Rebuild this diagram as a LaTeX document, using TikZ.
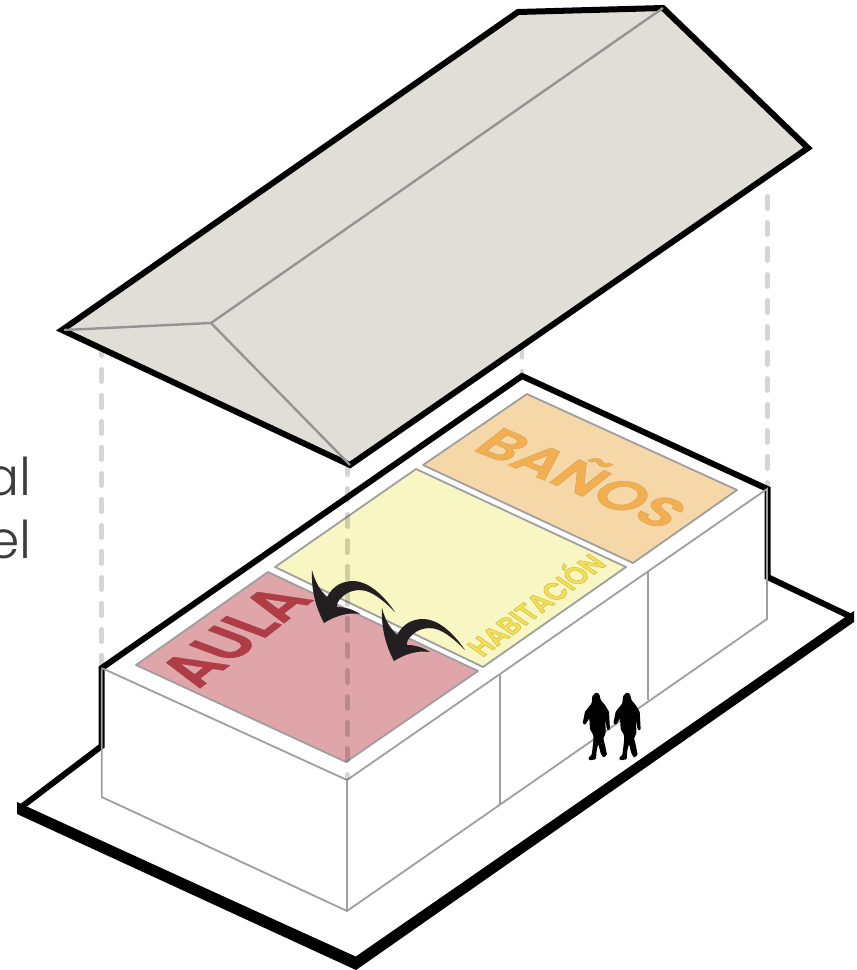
\documentclass[tikz,border=0pt]{standalone}
\usepackage{fontspec}
\setmainfont{Poppins}
\newfontfamily\lightfont{Poppins Light}
\newfontfamily\isofamily{Poppins SemiBold}[FakeBold=0.5]
\newfontfamily\isofamilyB{Poppins SemiBold}[FakeBold=1.6]
\newsavebox\isobox
\newlength\isoh
\newlength\wAula
\newlength\wBanos
\newlength\wHabi
\newcommand\isostyle{\fontsize{10pt}{12pt}\isofamily}
\newcommand\isostyleB{\fontsize{10pt}{12pt}\isofamilyB}
\AtBeginDocument{%
  \sbox\isobox{\isostyle AULA}\global\wAula=\wd\isobox
  \sbox\isobox{\isostyle BAÑOS}\global\wBanos=\wd\isobox
  \sbox\isobox{\isostyleB HABITACIÓN}\global\wHabi=\wd\isobox
  \sbox\isobox{\isostyle H}\global\isoh=\ht\isobox
}
% name, text colour, start x, start y, end x, end y, cap vector x, y, width length
\newcommand\isotext[9]{%
  \pgfmathsetmacro\isoa{(#5-#3)/#9}%
  \pgfmathsetmacro\isob{-(#6-#4)/#9}%
  \pgfmathsetmacro\isoc{#7/\isoh}%
  \pgfmathsetmacro\isod{-#8/\isoh}%
  \isotextnode{#1}{#2}{#3}{#4}%
}
% name, colour, x, y, then font/outline/text
\newcommand\isotextnode[5]{%
  \node[transform shape,cm={\isoa,\isob,\isoc,\isod,(#3,#4)},anchor=base west,inner sep=0pt,text=#2] (#1) at (0,0) {#5};%
}
\newcommand\swoosh[2]{%
  \fill[swooshc,shift={(#1,#2)}] (395,612) .. controls (380,590) and (365,581) .. (353,581)
    .. controls (342,581) and (333,586) .. (327,597)
    .. controls (320,590) and (315,582) .. (312,570)
    .. controls (311,590) and (316,608) .. (324,623)
    .. controls (335,616) and (348,612) .. (360,614)
    .. controls (352,609) and (345,607) .. (337,607)
    .. controls (337,603) and (338,601) .. (340,599)
    .. controls (348,590) and (358,589) .. (366,591)
    .. controls (376,594) and (386,603) .. (395,612) -- cycle;%
}
\newcommand\walker[1]{%
  \begin{scope}[shift={(#1,670)},x=0.3333pt,y=-0.3333pt]
  \fill[black,rounded corners=1pt] (108,67) -- (118,72) -- (122,90) -- (135,105) -- (147,125) -- (150,178) -- (146,183) -- (140,175) -- (136,145) -- (137,190) -- (130,205) -- (135,225) -- (141,255) -- (130,263) -- (122,250) -- (115,222) -- (110,240) -- (108,268) -- (88,271) -- (85,263) -- (95,255) -- (100,215) -- (100,195) -- (90,178) -- (88,145) -- (75,165) -- (68,160) -- (75,125) -- (95,100) -- (97,78) -- cycle;
  \end{scope}%
}
\definecolor{roofc}{HTML}{E0DED7}
\definecolor{linec}{HTML}{9F9F9F}
\definecolor{auroom}{HTML}{DFA5A9}
\definecolor{haroom}{HTML}{F8F6C2}
\definecolor{baroom}{HTML}{F6D7A8}
\definecolor{autext}{HTML}{B23C45}
\definecolor{hatext}{HTML}{F5E050}
\definecolor{batext}{HTML}{F3AE50}
\definecolor{swooshc}{HTML}{231F20}
\definecolor{sidetext}{HTML}{3C3C3C}
\tikzset{
  heavy/.style={draw=black,line width=6pt,miter limit=1.8},
  thinline/.style={draw=linec,line width=1.8pt},
  roomedge/.style={draw=linec,line width=1.8pt,line join=round},
  guide/.style={draw=black,draw opacity=0.165,line width=4.6pt,line cap=round,dash pattern=on 12.4pt off 13.6pt},
  roofedge/.style={draw=black!42,line width=2.4pt},
}
\begin{document}
\begin{tikzpicture}[x=1pt,y=-1pt]
\clip (0,0) rectangle (857,970);
% side text
\node[anchor=base east,inner sep=0pt,text=sidetext,font=\lightfont\fontsize{52pt}{52pt}\selectfont] (t1) at (32,495) {al};
\node[anchor=base east,inner sep=0pt,text=sidetext,font=\lightfont\fontsize{52pt}{52pt}\selectfont] (t2) at (32,558) {el};
% wall lines
\path[fill=white,heavy] (101.7,668) -- (522,376) -- (767.5,489) -- (767.5,577) -- (851.5,617) -- (356,960) -- (20,808) -- (101.7,746) -- cycle;
\fill[black] (17,802) -- (17,814) -- (356,970) -- (854,622) -- (854,611) -- (356,957) -- cycle;
\draw[thinline] (101.7,668) -- (347,780) -- (767,489) -- (767,619) -- (347,911) -- (101.7,797) -- (101.7,668);
\draw[thinline] (347,780) -- (347,911);
\draw[thinline] (500,675) -- (500,804);
\draw[thinline] (648,571) -- (648,700);
% rooms
\path[fill=auroom,roomedge] (136,665) -- (268,572) -- (478,671) -- (346,762) -- cycle;
\path[fill=haroom,roomedge] (275,567) -- (416,469) -- (626,567) -- (483,667) -- cycle;
\path[fill=baroom,roomedge] (423,465) -- (527,394) -- (737,490) -- (633,563) -- cycle;
% room labels
\isotext{aula}{autext}{198}{690}{314}{600}{-45}{-17}{\wAula}{\isostyle\special{pdf:code 0.55 0.28 0.31 RG}AULA}
\isotext{banos}{batext}{470}{449}{662}{530}{29}{-23}{\wBanos}{\isostyle\special{pdf:code 0.78 0.6 0.35 RG}BAÑOS}
\isotext{habi}{hatext}{482}{658}{607}{565}{-17}{-12}{\wHabi}{\isostyleB\special{pdf:code 0.78 0.7 0.3 RG}HABITACIÓN}
% guides
\draw[guide] (101.7,343.3) -- (101.7,668);
\draw[guide] (347.3,462.3) -- (347.3,778);
\draw[guide] (522,345) -- (522,376);
\draw[guide] (767.3,196.3) -- (767.3,486);
% roof
\path[fill=roofc,draw=black,line width=6pt,miter limit=10] (62,330) -- (518,12) -- (663,8) -- (808,148) -- (350,465) -- cycle;
\draw[roofedge] (64,330) -- (211,323) -- (663,8);
\draw[roofedge] (211,323) -- (350,465);
% arrows
\swoosh{0}{0}
\swoosh{70}{38}
% people
\walker{560}
\walker{590.7}
\end{tikzpicture}
\end{document}
